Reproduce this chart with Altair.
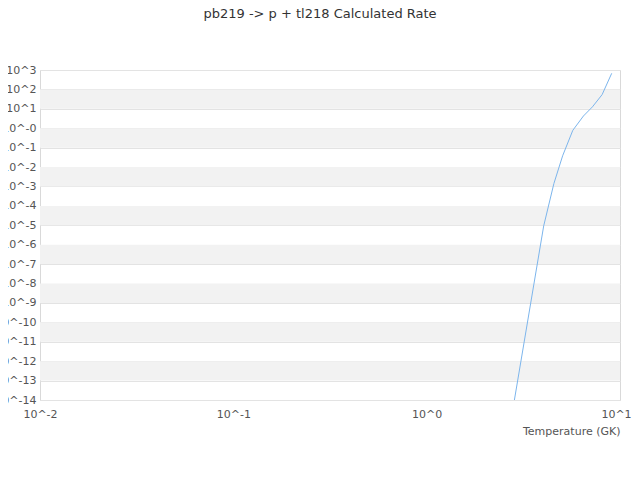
import pandas as pd
import altair as alt

# Rate curve (temperature in GK, rate)
temps = [2.5, 4.03, 4.55, 5.05, 5.7, 6.47, 7.2, 8.08, 9.06]
rates = [5.0e-18, 9.3e-6, 1.41e-3, 3.8e-2, 0.78, 4.27, 12.6, 53.7, 676.0]

# Axis decades
x_ticks = [0.01, 0.1, 1, 10]
y_exps = list(range(-14, 4))
y_ticks = [10.0 ** e for e in y_exps]

df = pd.DataFrame({"T": temps, "rate": rates})

# alternating grey bands between every other decade
bands = pd.DataFrame({
    "lo": [10.0 ** e for e in y_exps[:-1] if e % 2 != 0],
    "hi": [10.0 ** (e + 1) for e in y_exps[:-1] if e % 2 != 0],
})

y_scale = alt.Scale(type="log", domain=[1e-14, 1e3], nice=False)
x_scale = alt.Scale(type="log", domain=[0.01, 10], nice=False)

band_layer = alt.Chart(bands).mark_rect(color="#f2f2f2").encode(
    x=alt.value(0),
    x2=alt.value(580),
    y=alt.Y("lo:Q", scale=y_scale, title=None),
    y2="hi:Q",
)

line = alt.Chart(df).mark_line(color="#7cb5ec", strokeWidth=1, clip=True).encode(
    x=alt.X(
        "T:Q",
        scale=x_scale,
        title="Temperature (GK)",
        axis=alt.Axis(
            values=x_ticks,
            grid=False,
            ticks=False,
            domain=False,
            labelExpr="'10^' + round(log(datum.value) / LN10)",
            labelFlush=False,
            labelOffset=alt.condition("datum.value == 10", alt.value(-4), alt.value(0)),
            labelPadding=8,
            titleAnchor="end",
            titleAlign="right",
            titlePadding=6,
        ),
    ),
    y=alt.Y(
        "rate:Q",
        scale=y_scale,
        title=None,
        axis=alt.Axis(
            values=y_ticks,
            grid=True,
            ticks=False,
            domain=False,
            labelPadding=4,
            labelExpr="round(log(datum.value) / LN10) == 0 ? '10^-0' : '10^' + round(log(datum.value) / LN10)",
        ),
    ),
)

chart = (band_layer + line).properties(
    width=580,
    height=330,
    autosize=alt.AutoSizeParams(type="none"),
    padding={"left": 32, "top": 62, "right": 12, "bottom": 50},
    title=alt.TitleParams(
        "pb219 -> p + tl218 Calculated Rate",
        anchor="middle",
        dx=-10,
        offset=43,
        fontSize=13,
        fontWeight="normal",
        color="#333333",
        font="DejaVu Sans",
    ),
).configure_axis(
    labelFont="DejaVu Sans",
    labelFontSize=11,
    labelColor="#555555",
    titleFont="DejaVu Sans",
    titleFontSize=11,
    titleFontWeight="normal",
    titleColor="#555555",
    gridColor="#e3e3e3",
    gridWidth=1,
).configure_view(stroke="#d9d9d9", strokeWidth=1)

chart.save("out.html", embed_options={"renderer": "svg", "actions": False})
